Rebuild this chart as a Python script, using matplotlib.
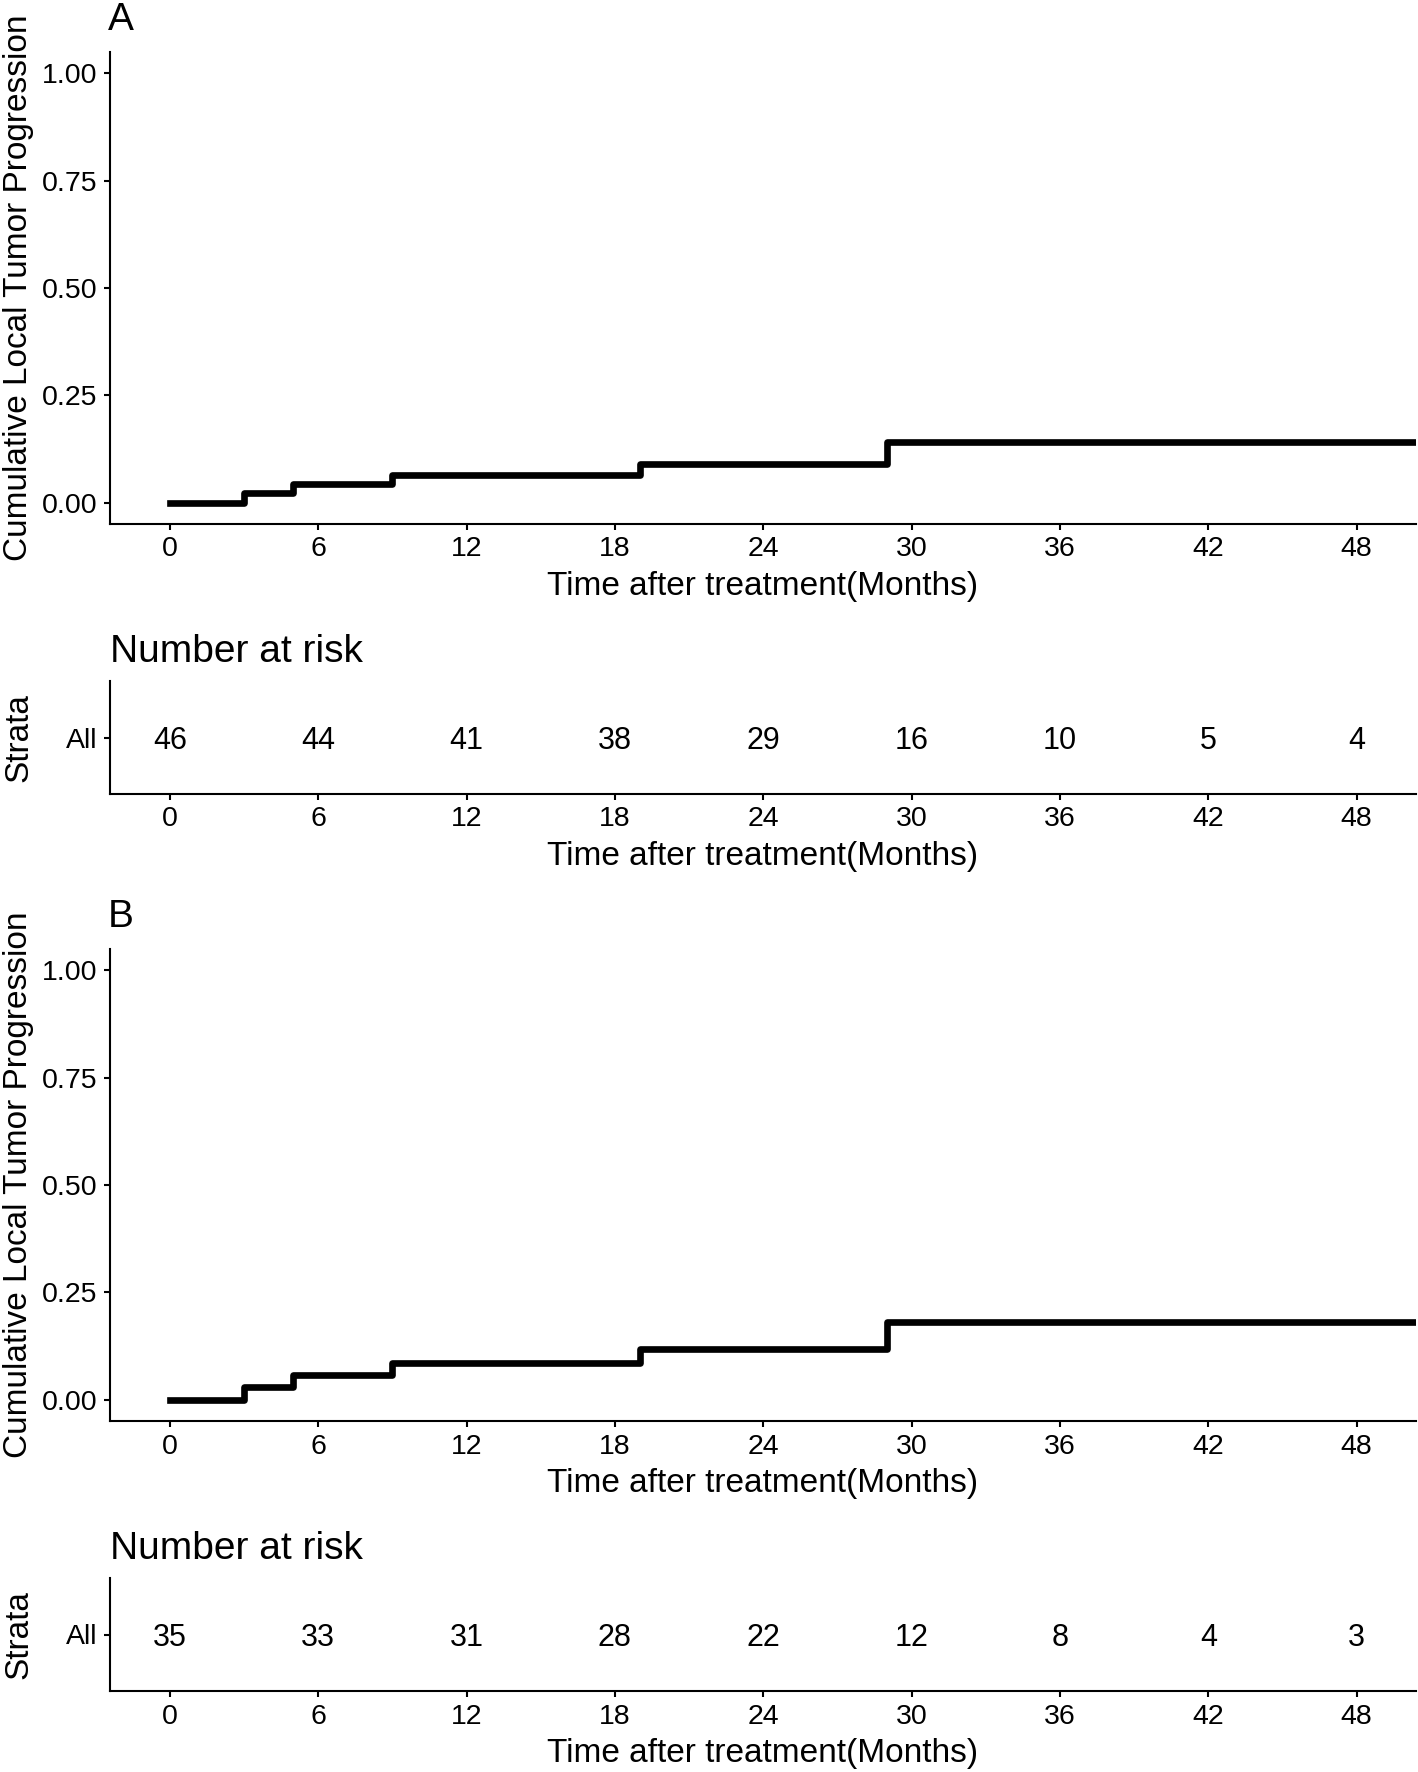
import matplotlib
matplotlib.use("Agg")
import matplotlib.pyplot as plt
import numpy as np

plt.rcParams['font.family'] = ['Liberation Sans', 'DejaVu Sans']

# ---- data ----
event_times = [0, 3, 5, 9, 19, 29, 50.4]
cum_A = [0.0, 0.0217, 0.0435, 0.065, 0.090, 0.140, 0.140]
cum_B = [0.0, 0.0286, 0.057, 0.086, 0.118, 0.181, 0.181]
risk_times = [0, 6, 12, 18, 24, 30, 36, 42, 48]
risk_A = [46, 44, 41, 38, 29, 16, 10, 5, 4]
risk_B = [35, 33, 31, 28, 22, 12, 8, 4, 3]
xticks = [0, 6, 12, 18, 24, 30, 36, 42, 48]
yticks = [0.0, 0.25, 0.5, 0.75, 1.0]
ytick_labels = ["0.00", "0.25", "0.50", "0.75", "1.00"]
panel_labels = ["A", "B"]

W, H = 1418, 1772
fig = plt.figure(figsize=(W / 100, H / 100), dpi=100)

AX_LEFT, AX_RIGHT = 110, 1416

def px_axes(left, top, right, bottom):
    return fig.add_axes([left / W, 1 - bottom / H, (right - left) / W, (bottom - top) / H])

XLIM = (-2.42, 50.4)
YLABEL_X = (34 - AX_LEFT) / (AX_RIGHT - AX_LEFT)

def style(ax):
    for s in ['top', 'right']:
        ax.spines[s].set_visible(False)
    for s in ['left', 'bottom']:
        ax.spines[s].set_linewidth(1.5)
    ax.tick_params(width=1.5, length=4, labelsize=20.5, pad=5, colors='black')

def main_panel(top, bottom, cum, label):
    ax = px_axes(AX_LEFT, top, AX_RIGHT, bottom)
    ax.step(event_times, cum, where='post', color='black', lw=4.8, solid_joinstyle='round')
    ax.set_xlim(*XLIM)
    ax.set_ylim(-0.05, 1.05)
    ax.set_xticks(xticks)
    ax.set_yticks(yticks)
    ax.set_yticklabels(ytick_labels)
    style(ax)
    ax.set_xlabel("Time after treatment(Months)", fontsize=24, labelpad=6)
    ax.set_ylabel("Cumulative Local Tumor Progression", fontsize=24)
    ax.yaxis.set_label_coords(YLABEL_X, 0.5)
    fig.text(108 / W, 1 - (top - 14) / H, label, fontsize=28, ha='left', va='bottom')
    return ax

def risk_panel(top, bottom, risk):
    ax = px_axes(AX_LEFT, top, AX_RIGHT, bottom)
    for t, n in zip(risk_times, risk):
        ax.text(t, -0.03, str(n), ha='center', va='center', fontsize=22)
    ax.set_xlim(*XLIM)
    ax.set_ylim(-0.5, 0.5)
    ax.set_xticks(xticks)
    ax.set_yticks([0])
    ax.set_yticklabels(["All"])
    style(ax)
    ax.set_xlabel("Time after treatment(Months)", fontsize=24, labelpad=6)
    ax.set_ylabel("Strata", fontsize=24)
    ax.yaxis.set_label_coords(YLABEL_X, 0.5)
    ax.set_title("Number at risk", loc='left', fontsize=28, pad=14)
    return ax

main_panel(52, 524, cum_A, panel_labels[0])
risk_panel(681, 794, risk_A)
main_panel(949, 1421, cum_B, panel_labels[1])
risk_panel(1578, 1691, risk_B)

fig.savefig("out.png", dpi=100, facecolor='white')
